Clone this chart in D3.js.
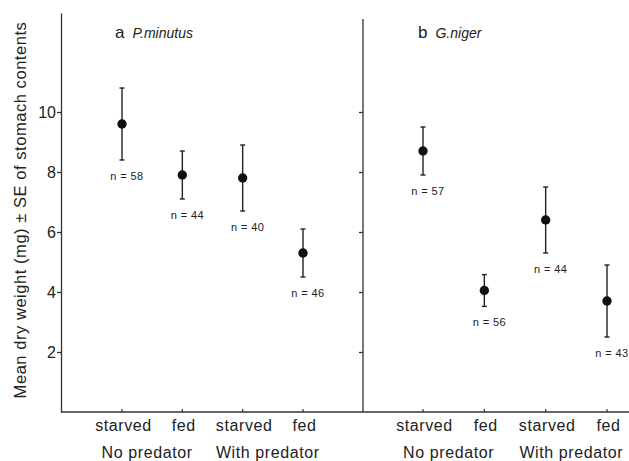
<!DOCTYPE html>
<html>
<head>
<meta charset="utf-8">
<script src="https://cdn.jsdelivr.net/npm/d3@7"></script>
<style>
  body { margin: 0; background: #fff; }
  text { font-family: "Liberation Sans", Arial, sans-serif; fill: #222; }
</style>
</head>
<body>
<svg id="chart" width="629" height="461"></svg>
<script>
// treatments along the x axis (same for both panels)
const treatments = ["starved", "fed", "starved2", "fed2"];
const treatmentLabels = ["starved", "fed", "starved", "fed"];
const groups = ["No predator", "With predator"];

// panel a: P. minutus
const minutusMean = [9.6, 7.9, 7.8, 5.3];
const minutusSE = [1.2, 0.8, 1.1, 0.8];
const minutusN = [58, 44, 40, 46];

// panel b: G. niger
const nigerMean = [8.7, 4.05, 6.4, 3.7];
const nigerSE = [0.8, 0.53, 1.1, 1.2];
const nigerN = [57, 56, 44, 43];

const yTicks = [2, 4, 6, 8, 10];

const svg = d3.select("#chart");
const baseY = 412;

// y scale shared by both panels
const y = d3.scaleLinear().domain([0, 13.3]).range([baseY, 13]);

const panels = [
  { letter: "a", name: "P.minutus", axisX: 61, range: [122, 303], mean: minutusMean, se: minutusSE, n: minutusN, labels: true },
  { letter: "b", name: "G.niger", axisX: 363, range: [423, 607], mean: nigerMean, se: nigerSE, n: nigerN, labels: false }
];

// bottom axis line runs across both panels
svg.append("line")
  .attr("x1", 61).attr("x2", 629)
  .attr("y1", baseY).attr("y2", baseY)
  .attr("stroke", "#333").attr("stroke-width", 1.3);

panels.forEach(p => {
  const x = d3.scalePoint().domain(treatments).range(p.range);

  // y axis
  const yAxis = d3.axisLeft(y).tickValues(yTicks)
    .tickSize(4).tickSizeOuter(0)
    .tickFormat(p.labels ? d3.format("d") : "");
  const ga = svg.append("g").attr("transform", `translate(${p.axisX},0)`).call(yAxis);
  ga.select(".domain").attr("stroke", "#333").attr("stroke-width", 1.3);
  ga.selectAll(".tick line").attr("stroke", "#333").attr("stroke-width", 1.3);
  ga.selectAll(".tick text")
    .attr("font-family", "Liberation Sans, Arial, sans-serif")
    .attr("font-size", 16).attr("fill", "#222").attr("x", -5);
  if (p.letter === "b") ga.select(".domain").attr("d", `M0,${y(13.1)}V${baseY}`);

  // small ticks on the x axis
  svg.append("g").selectAll("line")
    .data(treatments).join("line")
    .attr("x1", d => x(d)).attr("x2", d => x(d))
    .attr("y1", baseY).attr("y2", baseY - 3)
    .attr("stroke", "#333").attr("stroke-width", 1.2);

  // treatment labels
  svg.append("g").selectAll("text")
    .data(treatments).join("text")
    .attr("x", d => x(d) + 1.5)
    .attr("y", 431)
    .attr("text-anchor", "middle")
    .attr("font-size", 16)
    .attr("letter-spacing", 0.6)
    .text((d, i) => treatmentLabels[i]);

  // group labels
  groups.forEach((g, i) => {
    const cx = (x(treatments[i * 2]) + x(treatments[i * 2 + 1])) / 2 - 5;
    svg.append("text")
      .attr("x", cx).attr("y", 458)
      .attr("text-anchor", "middle")
      .attr("font-size", 16)
      .attr("letter-spacing", 0.6)
      .text(g);
  });

  // panel title
  const t = svg.append("text")
    .attr("x", p.letter === "a" ? 115 : 418)
    .attr("y", 38)
    .attr("font-size", 17);
  t.append("tspan").text(p.letter);
  t.append("tspan").attr("dx", 8).attr("font-size", 14).attr("font-style", "italic").text(p.name);

  // error bars
  const g = svg.append("g");
  treatments.forEach((d, i) => {
    const cx = x(d);
    const hi = y(p.mean[i] + p.se[i]);
    const lo = y(p.mean[i] - p.se[i]);
    g.append("line").attr("x1", cx).attr("x2", cx).attr("y1", hi).attr("y2", lo)
      .attr("stroke", "#222").attr("stroke-width", 1.4);
    [hi, lo].forEach(v => {
      g.append("line").attr("x1", cx - 2.5).attr("x2", cx + 2.5).attr("y1", v).attr("y2", v)
        .attr("stroke", "#222").attr("stroke-width", 1.4);
    });
    g.append("circle").attr("cx", cx).attr("cy", y(p.mean[i])).attr("r", 4.7).attr("fill", "#111");
    g.append("text")
      .attr("x", cx + 5).attr("y", lo + 20)
      .attr("text-anchor", "middle")
      .attr("font-size", 11)
      .attr("letter-spacing", 0.4)
      .attr("fill", "#333")
      .text(`n = ${p.n[i]}`);
  });
});

// y axis title
svg.append("text")
  .attr("transform", "translate(26,210) rotate(-90)")
  .attr("text-anchor", "middle")
  .attr("font-size", 16.5)
  .attr("letter-spacing", 0.55)
  .text("Mean dry weight (mg) \u00b1 SE of stomach contents");
</script>
</body>
</html>
